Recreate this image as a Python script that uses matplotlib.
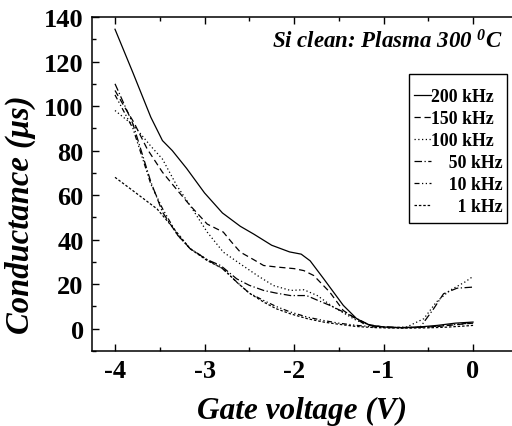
import matplotlib
matplotlib.use("Agg")
import matplotlib.pyplot as plt
from matplotlib.ticker import MultipleLocator
from matplotlib.patches import Rectangle

plt.rcParams['font.family'] = ['Liberation Serif', 'DejaVu Serif']
plt.rcParams['font.weight'] = 'bold'
plt.rcParams['axes.unicode_minus'] = False
plt.rcParams['mathtext.fontset'] = 'custom'
plt.rcParams['mathtext.rm'] = 'Liberation Serif:bold:italic'
plt.rcParams['mathtext.it'] = 'Liberation Serif:bold:italic'
plt.rcParams['mathtext.bf'] = 'Liberation Serif:bold:italic'

labels = ["200 kHz", "150 kHz", "100 kHz", "\u2007\u200750 kHz", "\u2007\u200710 kHz", "\u2007\u2007\u20071 kHz"]

x_200 = [-4.0, -3.8, -3.6, -3.47, -3.36, -3.2, -3.0, -2.8, -2.6, -2.45, -2.25, -2.05, -1.92, -1.82, -1.67, -1.45, -1.30, -1.15, -1.0, -0.8, -0.6, -0.4, -0.2, 0.0]
y_200 = [134.5, 115, 95, 84.5, 80, 72, 61, 52, 46, 42.5, 37.5, 34.5, 33.5, 30.5, 22.5, 10.5, 4.5, 1.5, 0.8, 0.5, 0.8, 1.5, 2.5, 3.0]

x_150 = [-4.0, -3.9, -3.79, -3.64, -3.47, -3.3, -3.16, -2.97, -2.79, -2.7, -2.6, -2.45, -2.34, -2.19, -2.0, -1.89, -1.78, -1.6, -1.45, -1.22, -1.0, -0.8, -0.6, -0.4, -0.2, 0.0]
y_150 = [107, 100, 92.7, 80.7, 70.3, 62, 55.3, 47, 43.4, 39, 34.4, 31, 28.4, 27.7, 27, 26.1, 23.9, 16.4, 8.2, 2.2, 0.8, 0.5, 0.6, 1.0, 1.8, 2.5]

x_100 = [-4.0, -3.79, -3.6, -3.47, -3.31, -3.16, -2.97, -2.79, -2.6, -2.41, -2.23, -2.04, -1.89, -1.74, -1.56, -1.3, -1.1, -0.9, -0.74, -0.55, -0.41, -0.26, -0.09, 0.0]
y_100 = [98, 91.2, 82, 76.2, 64.3, 55.3, 43.4, 34.4, 29.1, 23.9, 19.4, 17.2, 17.5, 14.9, 9.7, 3.7, 1.0, 0.5, 0.8, 4.5, 12, 17.2, 21, 23.5]

x_50 = [-4.0, -3.8, -3.6, -3.47, -3.3, -3.16, -2.97, -2.82, -2.64, -2.5, -2.34, -2.2, -2.04, -1.86, -1.75, -1.6, -1.37, -1.15, -1.0, -0.8, -0.59, -0.44, -0.33, -0.18, 0.0]
y_50 = [110, 92, 66, 52.4, 42, 35.9, 31, 28.4, 22.4, 19.5, 17.2, 16, 14.9, 14.9, 13, 10.5, 6, 1.5, 0.7, 0.5, 0.7, 9, 15.7, 18.2, 18.7]

x_10 = [-4.0, -3.8, -3.6, -3.47, -3.3, -3.16, -2.97, -2.8, -2.64, -2.5, -2.34, -2.2, -2.04, -1.85, -1.67, -1.5, -1.3, -1.1, -0.9, -0.7, -0.5, -0.3, -0.1, 0.0]
y_10 = [105, 90, 65, 54, 42, 36, 31, 27, 21, 16, 12.7, 10, 7.5, 5.2, 3.7, 2.5, 1.5, 0.8, 0.5, 0.5, 0.8, 1.5, 2.3, 2.5]

x_1 = [-4.0, -3.8, -3.53, -3.34, -3.16, -2.97, -2.79, -2.64, -2.5, -2.34, -2.2, -2.04, -1.85, -1.67, -1.5, -1.3, -1.1, -0.9, -0.7, -0.5, -0.3, -0.1, 0.0]
y_1 = [68, 62, 53.8, 44.8, 35.9, 30.6, 26.9, 20.9, 16, 12, 9, 6.7, 4.5, 3, 2, 1, 0.5, 0.3, 0.3, 0.4, 0.7, 1.2, 1.5]

series = [(x_200, y_200), (x_150, y_150), (x_100, y_100), (x_50, y_50), (x_10, y_10), (x_1, y_1)]
styles = ['-', (0, (5, 3)), (0, (1, 2)), (0, (6, 2, 1, 2)), (0, (4, 2, 1, 2, 1, 2)), (0, (2, 1.5))]

fig = plt.figure(figsize=(5.12, 4.27), dpi=100)
ax = fig.add_axes([92/512, 75/427, 420/512, 334/427])

for (xs, ys), ls, lab in zip(series, styles, labels):
    ax.plot(xs, ys, color='black', linestyle=ls, linewidth=0.9, label=lab)

ax.set_xlim(-4.257, 0.435)
ax.set_ylim(-10, 140)
ax.xaxis.set_major_locator(MultipleLocator(1))
ax.xaxis.set_minor_locator(MultipleLocator(0.5))
ax.yaxis.set_major_locator(MultipleLocator(20))
ax.yaxis.set_minor_locator(MultipleLocator(10))
ax.tick_params(which='both', direction='in', top=True, right=False, width=1)
ax.tick_params(which='major', length=5, labelsize=19, pad=6)
ax.tick_params(which='minor', length=3)
ax.spines['right'].set_visible(False)
for s in ['left', 'bottom', 'top']:
    ax.spines[s].set_linewidth(1.1)

ax.set_xlabel('Gate voltage (V)', fontsize=22.5, fontstyle='italic', fontweight='bold')
ax.set_ylabel('Conductance (\u03bcs)', fontsize=23.5, fontstyle='italic', fontweight='bold')
ax.xaxis.set_label_coords(0.5, -0.135)
ax.yaxis.set_label_coords(-0.133, 0.41)

ax.text(0.979, 0.928, 'Si clean: Plasma 300 $^0$C', transform=ax.transAxes,
        ha='right', va='center', fontsize=16.5, fontstyle='italic', fontweight='bold')

ax.add_patch(Rectangle((0.755, 0.383), 0.233, 0.446, transform=ax.transAxes,
                       fill=True, facecolor='white', edgecolor='black', linewidth=1.0, zorder=4))
leg = ax.legend(loc='upper right', bbox_to_anchor=(0.978, 0.786), fontsize=12.8,
                frameon=False, handlelength=0.95, handletextpad=0.02,
                labelspacing=0.28, borderpad=0, borderaxespad=0)
leg.set_zorder(5)

fig.savefig('out.png', dpi=100)
